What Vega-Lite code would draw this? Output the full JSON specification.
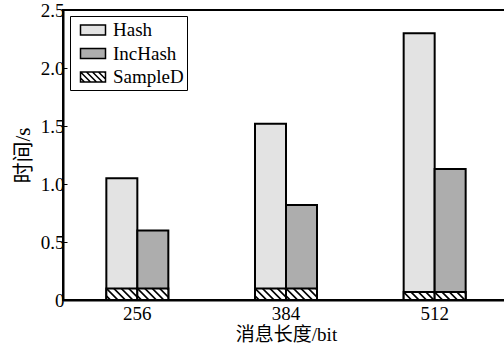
{
  "$schema": "https://vega.github.io/schema/vega-lite/v6.json",
  "autosize": {"type": "none"},
  "width": 446,
  "height": 290,
  "padding": {"left": 63, "top": 10, "right": 0, "bottom": 44},
  "background": "white",
  "config": {
    "view": {"stroke": "black", "strokeWidth": 2},
    "font": "Liberation Serif",
    "axis": {"labelFont": "Liberation Serif", "labelFontSize": 19, "labelColor": "black", "titleFont": "Liberation Serif, Noto Sans CJK SC", "titleFontSize": 19, "titleFontWeight": "normal", "titleColor": "black", "domainColor": "black", "domainWidth": 2, "tickColor": "black", "grid": false}
  },
  "data": {
    "values": [
      {"len": "256", "slot": "Hash", "series": "Hash", "time": 1.05},
      {"len": "256", "slot": "IncHash", "series": "IncHash", "time": 0.60},
      {"len": "384", "slot": "Hash", "series": "Hash", "time": 1.52},
      {"len": "384", "slot": "IncHash", "series": "IncHash", "time": 0.82},
      {"len": "512", "slot": "Hash", "series": "Hash", "time": 2.30},
      {"len": "512", "slot": "IncHash", "series": "IncHash", "time": 1.13},
      {"len": "256", "slot": "Hash", "series": "SampleD", "time": 0.10},
      {"len": "256", "slot": "IncHash", "series": "SampleD", "time": 0.10},
      {"len": "384", "slot": "Hash", "series": "SampleD", "time": 0.10},
      {"len": "384", "slot": "IncHash", "series": "SampleD", "time": 0.10},
      {"len": "512", "slot": "Hash", "series": "SampleD", "time": 0.068},
      {"len": "512", "slot": "IncHash", "series": "SampleD", "time": 0.068}
    ]
  },
  "encoding": {
    "x": {"field": "len", "type": "nominal", "sort": ["256", "384", "512"],
      "scale": {"paddingInner": 0.583, "paddingOuter": 0.2915},
      "axis": {"title": "消息长度/bit", "labelAngle": 0, "ticks": false, "labelPadding": 4, "titlePadding": 2}},
    "xOffset": {"field": "slot", "type": "nominal", "sort": ["Hash", "IncHash"],
      "scale": {"paddingInner": 0, "paddingOuter": 0}},
    "y": {"field": "time", "type": "quantitative",
      "scale": {"domain": [0, 2.5], "nice": false, "zero": true},
      "axis": {"title": "时间/s", "titleFontSize": 21, "values": [0, 0.5, 1, 1.5, 2, 2.5], "tickSize": -4, "labelPadding": 3, "titlePadding": 7,
        "labelExpr": "datum.value == 0 ? '0' : format(datum.value, '.1f')"}}
  },
  "layer": [
    {
      "transform": [{"filter": "datum.series !== 'SampleD'"}],
      "mark": {"type": "bar", "stroke": "black", "strokeWidth": 2, "opacity": 1},
      "encoding": {
        "fill": {"field": "series", "type": "nominal",
          "scale": {"domain": ["Hash", "IncHash", "SampleD"], "range": ["#e3e3e3", "#adadad", "#ffffff"]},
          "legend": {"title": null, "orient": "none", "legendX": 7, "legendY": 6,
            "strokeColor": "black", "padding": 3, "symbolOffset": 9, "labelFont": "Liberation Serif", "labelFontSize": 19, "labelColor": "black",
            "symbolSize": 400, "labelOffset": 9, "rowPadding": 2.5,
            "encode": {
              "legend": {"update": {"strokeWidth": {"value": 2}}},
              "symbols": {"update": {"stroke": {"value": "black"}, "strokeWidth": {"value": 1.6}, "opacity": {"value": 1}, "fillOpacity": {"value": 1}}}
            }}}
      }
    },
    {
      "transform": [{"filter": "datum.series === 'SampleD'"}],
      "mark": {"type": "bar", "stroke": "black", "strokeWidth": 2, "opacity": 1},
      "encoding": {
        "fill": {"field": "series", "type": "nominal"}
      }
    },
    {
      "transform": [{"filter": "datum.series === 'SampleD' && datum.len !== '512'"}],
      "mark": {"type": "point", "filled": false, "stroke": "black", "strokeWidth": 1.6, "opacity": 1, "size": 961,
        "shape": "M-1,0.48L-0.74,0.74M-1,0L-0.26,0.74M-0.52,0L0.22,0.74M-0.04,0L0.7,0.74M0.44,0L1,0.56M0.92,0L1,0.08"},
      "encoding": {}
    },
    {
      "transform": [{"filter": "datum.series === 'SampleD' && datum.len === '512'"}],
      "mark": {"type": "point", "filled": false, "stroke": "black", "strokeWidth": 1.6, "opacity": 1, "size": 961,
        "shape": "M-1,0L-0.5,0.5M-0.52,0L-0.02,0.5M-0.04,0L0.46,0.5M0.44,0L0.94,0.5M0.92,0L1,0.08"},
      "encoding": {}
    },
    {
      "transform": [{"filter": "false"}],
      "mark": {"type": "point", "opacity": 1},
      "encoding": {
        "shape": {"field": "series", "type": "nominal",
          "scale": {"domain": ["Hash", "IncHash", "SampleD"], "range": [
            "M-1.25,-0.5H1.25V0.5H-1.25Z",
            "M-1.25,-0.5H1.25V0.5H-1.25Z",
            "M-1.25,-0.5H1.25V0.5H-1.25ZM-1.25,0.1L-0.85,0.5M-1.25,-0.5L-0.25,0.5M-0.65,-0.5L0.35,0.5M-0.05,-0.5L0.95,0.5M0.55,-0.5L1.25,0.2M1.15,-0.5L1.25,-0.4"]},
          "legend": {"title": null}}
      }
    }
  ]
}
